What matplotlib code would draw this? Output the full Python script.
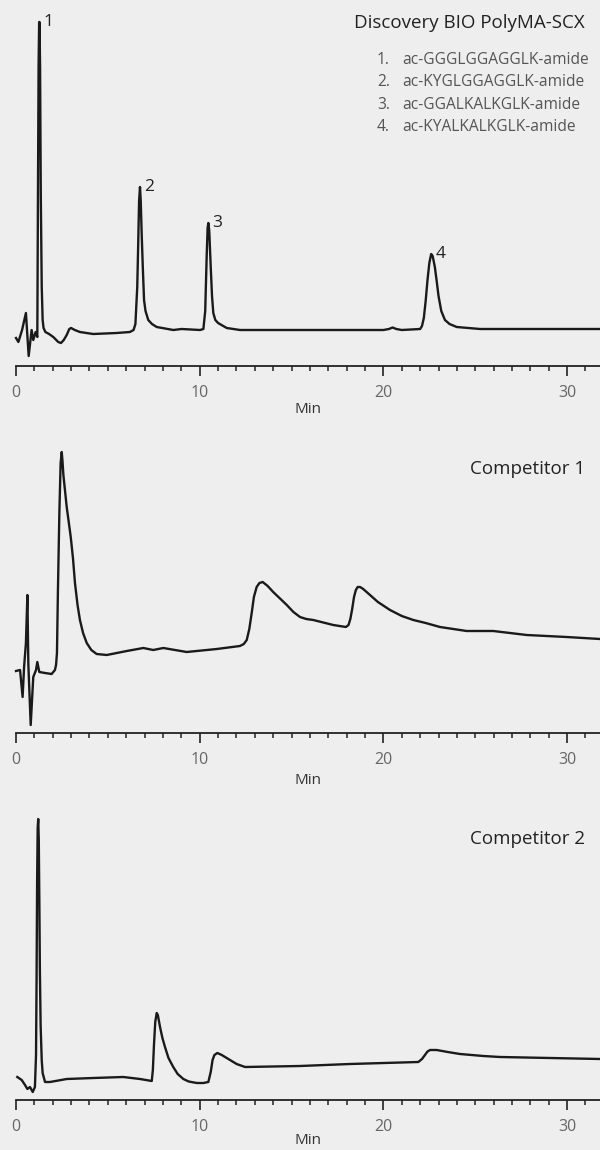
import matplotlib
matplotlib.use("Agg")
import matplotlib.pyplot as plt
import numpy as np

plt.rcParams['font.family'] = ['Open Sans', 'DejaVu Sans']

# ---- data (time in min, detector signal in arbitrary units) ----
polyma_time = [0.0, 0.13, 0.33, 0.54, 0.69, 0.85, 0.94, 1.07, 1.16, 1.19, 1.23, 1.26, 1.28,
               1.31, 1.35, 1.40, 1.45, 1.50, 1.60, 1.80, 2.03, 2.30, 2.45, 2.60, 2.76, 2.90,
               3.00, 3.20, 3.48, 4.2, 5.48, 6.2, 6.40, 6.50, 6.60, 6.65, 6.70, 6.75, 6.79,
               6.84, 6.90, 6.97, 7.05, 7.20, 7.40, 7.66, 8.56, 9.02, 10.02, 10.20, 10.30,
               10.38, 10.43, 10.47, 10.52, 10.60, 10.67, 10.74, 10.85, 11.0, 11.47, 12.2,
               20.0, 20.3, 20.5, 20.7, 21.0, 22.0, 22.1, 22.2, 22.3, 22.4, 22.5, 22.6,
               22.68, 22.8, 22.9, 23.0, 23.15, 23.35, 23.6, 23.99, 25.26, 31.8]
polyma_signal = [28, 24, 36, 53, 10, 36, 26, 34, 29, 150, 300, 344, 344,
                 300, 170, 80, 46, 38, 34, 32, 29, 24, 23, 26, 31, 37,
                 38, 36, 34, 32, 33, 34, 36, 42, 79, 120, 165, 179, 165,
                 133, 100, 66, 55, 46, 42, 39, 36, 37, 36, 37, 55,
                 110, 138, 143, 135, 99, 70, 53, 46, 43, 38, 36,
                 36, 37, 38.5, 37, 36, 37, 40, 48, 65, 86, 103, 112,
                 110, 99, 85, 70, 55, 46, 42, 39, 37, 37]

comp1_time = [0.0, 0.22, 0.36, 0.44, 0.54, 0.62, 0.67, 0.8, 0.94, 1.09, 1.16, 1.27, 1.58, 1.94,
              2.12, 2.18, 2.23, 2.28, 2.36, 2.43, 2.49, 2.53, 2.58, 2.76, 2.98, 3.10, 3.21,
              3.35, 3.48, 3.65, 3.85, 4.10, 4.39, 4.94, 6.03, 6.93, 7.47, 8.02, 9.29, 10.93,
              12.19, 12.40, 12.56, 12.70, 12.83, 12.95, 13.1, 13.25, 13.43, 13.7, 14.0, 14.4,
              14.74, 15.1, 15.46, 15.8, 16.18, 17.27, 17.96, 18.1, 18.2, 18.3, 18.4, 18.5,
              18.6, 18.73, 18.9, 19.27, 19.7, 20.36, 21.0, 21.63, 22.3, 23.08, 24.53, 25.98,
              27.8, 29.97, 31.79]
comp1_signal = [62, 63, 36, 66, 90, 138, 70, 8, 56, 63, 71, 61, 60, 59,
                63, 68, 80, 140, 220, 270, 281, 272, 258, 226, 196, 175, 150,
                128, 113, 100, 90, 83, 79, 78, 82, 85, 83, 85, 81, 84,
                87, 89, 93, 104, 120, 136, 146, 150, 151, 147, 141, 134,
                128, 121, 116, 114, 113, 108, 106, 108, 114, 124, 136, 143,
                146, 146, 144, 138, 131, 123, 117, 113, 110, 106, 102, 102,
                98, 96, 94]

comp2_time = [0.07, 0.31, 0.49, 0.62, 0.76, 0.91, 1.03, 1.09, 1.12, 1.15, 1.18, 1.21, 1.24,
              1.27, 1.30, 1.34, 1.40, 1.45, 1.58, 1.85, 2.76, 4.21, 5.84, 6.75, 7.39, 7.45,
              7.51, 7.58, 7.66, 7.72, 7.84, 7.97, 8.11, 8.30, 8.56, 8.80, 9.11, 9.40, 9.84,
              10.2, 10.47, 10.6, 10.7, 10.8, 10.96, 11.2, 11.47, 12.01, 12.47, 15.46, 18.18,
              21.9, 22.1, 22.26, 22.4, 22.54, 22.9, 23.5, 24.17, 25.44, 26.35, 29.07, 31.79]
comp2_signal = [23, 20, 15, 11, 13, 8, 13, 45, 120, 220, 272, 281, 260,
                200, 130, 75, 40, 27, 18, 18, 21, 22, 23, 21, 19, 30,
                55, 78, 87, 85, 73, 62, 53, 42, 33, 26, 21, 18.5, 17,
                17, 18, 28, 40, 45, 47, 45, 42, 36, 33, 34, 36,
                38, 41, 45, 48.5, 50, 50, 48, 46, 44, 43, 42, 41]

peak_labels = ["1", "2", "3", "4"]
peak_times = [1.27, 6.75, 10.47, 22.6]
legend_entries = ["ac-GGGLGGAGGLK-amide", "ac-KYGLGGAGGLK-amide",
                  "ac-GGALKALKGLK-amide", "ac-KYALKALKGLK-amide"]
panel_titles = ["Discovery BIO PolyMA-SCX", "Competitor 1", "Competitor 2"]
x_ticks = [0, 10, 20, 30]
x_label = "Min"

# ---- layout ----
W, H = 600, 1150
BG = '#eeeeee'
fig = plt.figure(figsize=(W / 100, H / 100), dpi=100, facecolor=BG)

def px_axes(left, axis_y, top, right=600):
    return fig.add_axes([left / W, 1 - axis_y / H, (right - left) / W, (axis_y - top) / H])

panels = [
    (polyma_time, polyma_signal, 366, 10, 410),
    (comp1_time, comp1_signal, 733, 420, 781),
    (comp2_time, comp2_signal, 1100, 800, 1140),
]
title_y = [23, 469, 839]

XMAX = 31.79
for i, (t, s, axis_y, top, min_y) in enumerate(panels):
    ax = px_axes(16, axis_y, top)
    ax.set_facecolor(BG)
    ax.plot(t, s, color='#1a1a1a', lw=1.7, solid_joinstyle='round', clip_on=False)
    ax.set_xlim(0, XMAX)
    ax.set_ylim(0, axis_y - top)
    for sp in ['top', 'right', 'left']:
        ax.spines[sp].set_visible(False)
    ax.spines['bottom'].set_color('#222222')
    ax.spines['bottom'].set_linewidth(1.3)
    ax.set_yticks([])
    ax.set_xticks(x_ticks)
    ax.set_xticks(np.arange(0, 32, 1), minor=True)
    ax.tick_params(axis='x', which='major', direction='out', length=7, width=1.2,
                   color='#222222', labelsize=11.5, labelcolor='#666666', pad=7)
    ax.tick_params(axis='x', which='minor', direction='out', length=3.6, width=1.1,
                   color='#222222')
    fig.text(308 / W, 1 - min_y / H, x_label, ha='center', va='center',
             fontsize=11, color='#333333')
    fig.text(585 / W, 1 - title_y[i] / H, panel_titles[i], ha='right', va='center',
             fontsize=13.5, color='#222222')
    if i == 0:
        for lab, pt in zip(peak_labels, peak_times):
            h = np.interp(pt, t, s)
            ax.annotate(lab, xy=(pt, h), xytext=(3, 0), textcoords='offset points',
                        ha='left', va='center', fontsize=12.5, color='#222222')
        for k, entry in enumerate(legend_entries):
            yy = [60, 82, 105, 127][k]
            fig.text(377 / W, 1 - yy / H, f"{k + 1}.", ha='left', va='center',
                     fontsize=11.2, color='#555555')
            fig.text(402 / W, 1 - yy / H, entry, ha='left', va='center',
                     fontsize=11.2, color='#555555')

fig.savefig('out.png', dpi=100, facecolor=BG)
